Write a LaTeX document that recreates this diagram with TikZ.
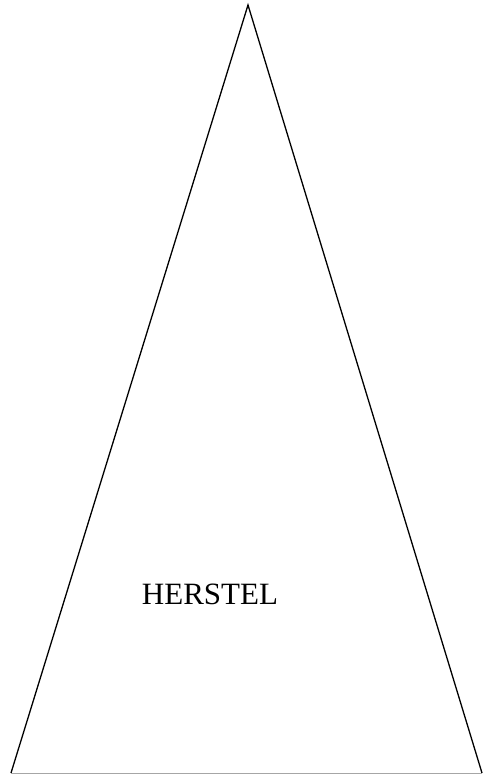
\documentclass[tikz,border=0pt]{standalone}
\usepackage{fontspec}
\setmainfont{Liberation Serif}
\usetikzlibrary{positioning}

\begin{document}
\begin{tikzpicture}[
    x=1pt, y=-1pt,
    edge/.style ={draw, line width=1.3pt, line join=miter},
    base/.style ={draw=black!35, line width=1pt},
    label/.style={font=\fontsize{31}{37}\selectfont, inner sep=0pt},
]
\useasboundingbox (0,0) rectangle (484,774);

% corners of the triangle
\coordinate (apex)  at (248,5);
\coordinate (left)  at (11,773);
\coordinate (right) at (482,773);

\draw[edge] (left) -- (apex) -- (right);
\draw[base] (left) -- (right);

\node[label] (herstel) at (210,594) {HERSTEL};

\end{tikzpicture}
\end{document}
